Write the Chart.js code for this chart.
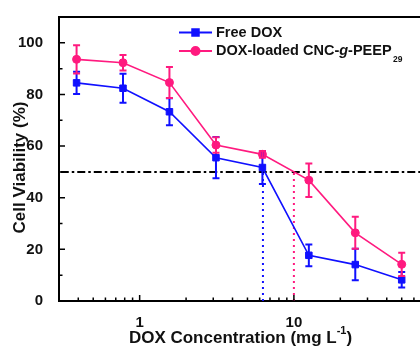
<!DOCTYPE html>
<html>
<head>
<meta charset="utf-8">
<script src="https://cdn.jsdelivr.net/npm/chart.js@4"></script>
<style>
  html, body { margin: 0; padding: 0; background: #fff; overflow: hidden; }
  #wrap { width: 420px; height: 347px; }
</style>
</head>
<body>
<div id="wrap"><canvas id="viabilityChart" width="420" height="347"></canvas></div>
<script>
// DOX concentration (mg/L) and cell viability (%)
const conc = [0.39, 0.78, 1.56, 3.125, 6.25, 12.5, 25, 50];
const freeDox = [84.5, 82.4, 73.3, 55.5, 51.7, 17.7, 14.1, 8.2];
const freeDoxErr = [4.3, 5.6, 5.2, 8, 6.4, 4.2, 6.1, 3];
const loadedDox = [93.6, 92.3, 84.6, 60.4, 56.8, 46.8, 26.4, 14.2];
const loadedDoxErr = [5.5, 3, 6, 3, 1.3, 6.5, 6.2, 4.5];
const ic50 = [6.3, 10];
const threshold = 50;
const xRange = [0.308, 65.7];
const yRange = [0, 110];
const xTicks = [1, 10];
const yTicks = [0, 20, 40, 60, 80, 100];
const yMinor = [10, 30, 50, 70, 90];
const xMinor = [0.4, 0.5, 0.6, 0.7, 0.8, 0.9, 2, 3, 4, 5, 6, 7, 8, 9, 20, 30, 40, 50, 60];

const BLUE = "#1010ff";
const PINK = "#ff1a7f";
const FONT = "'Liberation Sans', Arial, sans-serif";

// legend text pieces (italic g, subscript 29)
const legendLabels = [
    [{ t: "Free DOX" }],
    [{ t: "DOX-loaded CNC-" }, { t: "g", it: true }, { t: "-PEEP" }, { t: "29", sub: true }]
];

const toPts = (ys) => conc.map((x, i) => ({ x: x, y: ys[i] }));

const decor = {
    id: "decor",
    afterDatasetsDraw(chart) {
        const ctx = chart.ctx;
        const xs = chart.scales.x, ys = chart.scales.y;
        // error bars
        [[freeDox, freeDoxErr, BLUE], [loadedDox, loadedDoxErr, PINK]].forEach(([vals, errs, col]) => {
            ctx.save();
            ctx.strokeStyle = col;
            ctx.lineWidth = 2;
            vals.forEach((v, i) => {
                const px = xs.getPixelForValue(conc[i]);
                const t = ys.getPixelForValue(v + errs[i]);
                const b = ys.getPixelForValue(v - errs[i]);
                ctx.beginPath();
                ctx.moveTo(px, t); ctx.lineTo(px, b);
                ctx.moveTo(px - 3.5, t); ctx.lineTo(px + 3.5, t);
                ctx.moveTo(px - 3.5, b); ctx.lineTo(px + 3.5, b);
                ctx.stroke();
            });
            ctx.restore();
        });
    },
    afterDraw(chart) {
        const ctx = chart.ctx;
        const xs = chart.scales.x, ys = chart.scales.y;
        const a = chart.chartArea;
        ctx.save();
        ctx.strokeStyle = "#000";
        ctx.lineWidth = 1.5;
        ctx.beginPath();
        // inward ticks
        xTicks.forEach(v => { const p = xs.getPixelForValue(v); ctx.moveTo(p, a.bottom); ctx.lineTo(p, a.bottom - 6); });
        xMinor.forEach(v => { const p = xs.getPixelForValue(v); ctx.moveTo(p, a.bottom); ctx.lineTo(p, a.bottom - 3.5); });
        yTicks.forEach(v => { const p = ys.getPixelForValue(v); ctx.moveTo(a.left, p); ctx.lineTo(a.left + 6, p); });
        yMinor.forEach(v => { const p = ys.getPixelForValue(v); ctx.moveTo(a.left, p); ctx.lineTo(a.left + 3.5, p); });
        ctx.stroke();

        // legend
        const cols = [BLUE, PINK];
        const styles = ["rect", "circle"];
        const rows = [32.5, 51];
        rows.forEach((y, k) => {
            ctx.strokeStyle = cols[k];
            ctx.fillStyle = cols[k];
            ctx.lineWidth = 2;
            ctx.beginPath(); ctx.moveTo(179, y); ctx.lineTo(212, y); ctx.stroke();
            Chart.helpers.drawPoint(ctx, { pointStyle: styles[k], radius: k ? 4 : 4.6, borderWidth: 1 }, 195.5, y);
            ctx.fillStyle = "#111";
            ctx.textBaseline = "middle";
            let x = 216;
            legendLabels[k].forEach(part => {
                if (part.sub) {
                    ctx.font = "bold 8.5px " + FONT;
                    ctx.fillText(part.t, x + 1.5, y + 9);
                    x += ctx.measureText(part.t).width + 1.5;
                } else {
                    ctx.font = (part.it ? "italic " : "") + "bold 14.5px " + FONT;
                    ctx.fillText(part.t, x, y);
                    x += ctx.measureText(part.t).width;
                }
            });
        });

        // y axis title
        ctx.fillStyle = "#111";
        ctx.save();
        ctx.translate(20, 167.5);
        ctx.rotate(-Math.PI / 2);
        ctx.font = "bold 17px " + FONT;
        ctx.textAlign = "center";
        ctx.textBaseline = "middle";
        ctx.fillText("Cell Viability (%)", 0, 0);
        ctx.restore();

        // x axis title with superscript
        const main = "DOX Concentration (mg L";
        const sup = "-1";
        const close = ")";
        ctx.font = "bold 17px " + FONT;
        const w1 = ctx.measureText(main).width;
        const w3 = ctx.measureText(close).width;
        ctx.font = "bold 11px " + FONT;
        const w2 = ctx.measureText(sup).width;
        let x = 240.5 - (w1 + w2 + w3) / 2;
        const ty = 338;
        ctx.textBaseline = "middle";
        ctx.font = "bold 17px " + FONT;
        ctx.fillText(main, x, ty); x += w1;
        ctx.font = "bold 11px " + FONT;
        ctx.fillText(sup, x, ty - 7); x += w2;
        ctx.font = "bold 17px " + FONT;
        ctx.fillText(close, x, ty);
        ctx.restore();
    }
};

new Chart(document.getElementById("viabilityChart"), {
    type: "line",
    data: {
        datasets: [
            {
                label: "Free DOX",
                data: toPts(freeDox),
                borderColor: BLUE, backgroundColor: BLUE,
                borderWidth: 1.6, pointStyle: "rect", pointRadius: 4.6, pointBorderWidth: 1,
                order: 1
            },
            {
                label: "DOX-loaded CNC-g-PEEP29",
                data: toPts(loadedDox),
                borderColor: PINK, backgroundColor: PINK,
                borderWidth: 1.6, pointStyle: "circle", pointRadius: 4, pointBorderWidth: 1,
                order: 2
            },
            {
                label: "50%",
                data: [{ x: xRange[0], y: threshold }, { x: xRange[1], y: threshold }],
                borderColor: "#000", borderWidth: 2, borderDash: [8, 3, 2.5, 3],
                pointRadius: 0, order: 3
            },
            {
                label: "IC50 free",
                data: [{ x: ic50[0], y: yRange[0] }, { x: ic50[0], y: threshold }],
                borderColor: BLUE, borderWidth: 2, borderDash: [2, 4],
                pointRadius: 0, order: 4
            },
            {
                label: "IC50 loaded",
                data: [{ x: ic50[1], y: yRange[0] }, { x: ic50[1], y: threshold }],
                borderColor: PINK, borderWidth: 2, borderDash: [2, 4],
                pointRadius: 0, order: 4
            }
        ]
    },
    options: {
        responsive: false,
        animation: false,
        layout: { padding: 0, autoPadding: false },
        plugins: { legend: { display: false }, tooltip: { enabled: false } },
        scales: {
            x: {
                type: "logarithmic",
                position: "bottom",
                min: xRange[0], max: xRange[1],
                afterBuildTicks: (s) => { s.ticks = xTicks.map(v => ({ value: v })); },
                afterFit: (s) => { s.height = 46; },
                grid: { display: false },
                border: { display: true, color: "#000", width: 2 },
                ticks: {
                    color: "#111", padding: 5,
                    font: { family: FONT, size: 15, weight: "bold" },
                    callback: (v) => String(v)
                }
            },
            xTop: {
                type: "linear",
                position: "top",
                afterFit: (s) => { s.height = 15; },
                grid: { display: false },
                border: { display: true, color: "#000", width: 2 },
                ticks: { display: false }
            },
            y: {
                min: yRange[0], max: yRange[1],
                afterBuildTicks: (s) => { s.ticks = yTicks.map(v => ({ value: v })); },
                afterFit: (s) => { s.width = 59; },
                grid: { display: false },
                border: { display: true, color: "#000", width: 2 },
                ticks: {
                    color: "#111", padding: 8,
                    font: { family: FONT, size: 15, weight: "bold" }
                }
            }
        }
    },
    plugins: [decor]
});
</script>
</body>
</html>
